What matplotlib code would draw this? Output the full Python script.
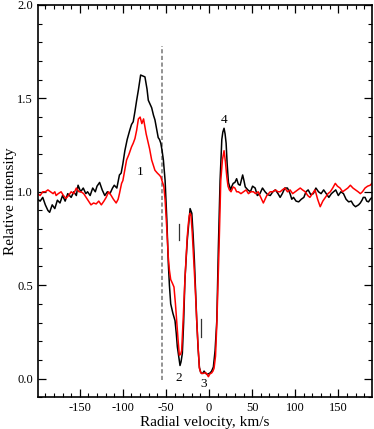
import numpy as np
import matplotlib
matplotlib.use("Agg")
import matplotlib.pyplot as plt
from matplotlib.ticker import MultipleLocator

# ---- data ----
vel_black = [-199, -196, -193, -190, -187, -185, -182, -179, -176, -173, -170, -167, -164, -160,
             -157, -154, -152, -149, -146, -143, -141, -138, -135, -132, -130, -127, -124, -121,
             -118, -115, -112, -110, -107, -104, -102, -100, -97.7, -95, -92, -90, -88, -86, -84,
             -82, -80.5, -79.4, -77, -74.4, -72, -70.5, -68.5, -66.6, -64.5, -62.8, -61, -59,
             -57.5, -56, -54.5, -53, -51, -49, -47.3, -46, -44.5, -42, -39.5, -38, -36.8, -35,
             -33.7, -32.5, -31, -29.5, -28, -26.5, -25.3, -23.5, -22, -20, -18.5, -17, -15.5,
             -14.3, -12.7, -11.2, -9.8, -8.5, -7, -5.8, -4.2, -2.7, -1, 1.2, 3, 5, 7, 9, 10.8,
             12.8, 14.8, 16, 17.4, 18.6, 19.8, 21, 22.5, 25, 26.5, 28, 30, 32, 34, 36, 39, 40.5,
             42, 45, 48, 50.5, 53.5, 56, 59, 62, 65, 68, 71, 74, 77, 80, 82.5, 85, 88, 91, 94,
             96, 98, 101, 104, 107, 110, 112.5, 115, 118, 121, 124, 127, 130, 133, 136, 139, 142,
             144.5, 147, 150, 153, 156, 159, 162, 165, 167.5, 170, 173.5, 175.5, 177.5, 179, 181,
             183, 185, 187, 189, 190]
int_black = [0.96, 0.95, 0.97, 0.93, 0.90, 0.89, 0.93, 0.91, 0.955, 0.94, 0.98, 0.95, 0.99, 0.97,
             1.00, 0.98, 1.035, 1.00, 1.02, 0.99, 1.00, 0.98, 1.02, 1.00, 1.03, 1.05, 1.01, 0.98,
             1.00, 0.99, 1.02, 1.035, 1.02, 1.09, 1.10, 1.15, 1.22, 1.28, 1.33, 1.36, 1.375, 1.43,
             1.49, 1.545, 1.59, 1.625, 1.62, 1.615, 1.55, 1.49, 1.47, 1.45, 1.41, 1.385, 1.34,
             1.29, 1.28, 1.26, 1.22, 1.17, 1.06, 0.85, 0.62, 0.50, 0.40, 0.35, 0.31, 0.24, 0.17,
             0.11, 0.07, 0.09, 0.135, 0.30, 0.53, 0.65, 0.74, 0.83, 0.91, 0.885, 0.77, 0.63, 0.46,
             0.31, 0.16, 0.06, 0.035, 0.027, 0.03, 0.04, 0.03, 0.023, 0.025, 0.03, 0.04, 0.062,
             0.15, 0.31, 0.70, 1.06, 1.28, 1.32, 1.34, 1.31, 1.26, 1.15, 1.05, 1.01, 1.03, 1.045,
             1.05, 1.07, 1.04, 1.035, 1.09, 1.06, 1.026, 1.01, 1.00, 1.03, 1.02, 0.98, 0.99, 1.02,
             1.00, 0.985, 0.98, 1.00, 1.01, 0.99, 0.97, 0.99, 1.02, 1.02, 0.99, 0.96, 0.97, 0.95,
             0.946, 0.96, 0.97, 1.00, 1.01, 0.985, 0.99, 1.02, 1.00, 0.99, 1.01, 0.99, 0.97, 0.99,
             1.00, 1.01, 0.98, 1.00, 0.99, 0.96, 0.946, 0.95, 0.93, 0.92, 0.93, 0.94, 0.955, 0.97,
             0.97, 0.95, 0.946, 0.96, 0.97, 0.96]

vel_red = [-199, -196, -193, -190, -187, -184, -181, -179, -177.5, -175, -171.7, -169, -166, -163,
           -160, -157, -154, -151, -148.5, -145.5, -142.7, -140, -137, -134, -131, -128, -125,
           -122, -119.4, -116.5, -113.6, -111, -107.8, -105.5, -104, -101.5, -100, -98, -95.7,
           -93, -90, -88, -86, -84, -82, -80, -78, -76, -74.5, -73, -71, -69, -66.6, -64.5,
           -62.8, -60, -57.8, -56, -54, -52.5, -51, -49, -47.3, -46, -44.5, -42.5, -40.7, -39,
           -37.6, -36, -34.5, -33, -31.8, -30, -28, -26.5, -25.3, -24, -23, -22, -21, -19.5,
           -18.2, -16, -14.3, -12.7, -11.2, -9.5, -7.3, -5.5, -3.5, -2, -0.8, 1, 3, 4.5, 5.8,
           7.5, 9, 11.6, 13.6, 15.5, 17.4, 19, 20.6, 22, 23.6, 25.5, 28, 30, 32, 34, 37, 40, 43,
           45.7, 48.5, 51.5, 54, 57, 60, 63, 65, 67, 69, 71, 74, 77, 80, 82.5, 85, 88, 91, 94,
           97, 100, 103, 105.8, 108.5, 111.6, 114.5, 117, 120, 123, 126, 129, 132, 135, 138,
           140.7, 143.5, 146.5, 149, 152, 155, 158, 161, 164, 167, 170, 173, 175.6, 178, 181,
           184, 187, 190]
int_red = [0.99, 0.98, 1.00, 1.00, 1.01, 1.00, 0.99, 1.00, 0.98, 0.99, 1.00, 0.98, 0.965, 0.98,
           1.00, 0.99, 1.02, 1.00, 1.00, 0.99, 0.97, 0.95, 0.93, 0.94, 0.935, 0.95, 0.93, 0.95,
           0.97, 1.00, 0.98, 0.96, 0.94, 0.96, 0.99, 1.045, 1.06, 1.11, 1.17, 1.20, 1.24, 1.26,
           1.285, 1.33, 1.39, 1.40, 1.365, 1.39, 1.35, 1.31, 1.27, 1.23, 1.17, 1.14, 1.115, 1.10,
           1.09, 1.08, 1.05, 1.03, 0.955, 0.80, 0.65, 0.58, 0.53, 0.51, 0.49, 0.40, 0.31, 0.21,
           0.125, 0.13, 0.15, 0.32, 0.53, 0.66, 0.76, 0.83, 0.87, 0.885, 0.875, 0.78, 0.67, 0.48,
           0.31, 0.17, 0.055, 0.03, 0.027, 0.03, 0.03, 0.02, 0.01, 0.025, 0.03, 0.04, 0.055,
           0.12, 0.29, 0.70, 1.06, 1.17, 1.22, 1.16, 1.08, 1.03, 1.01, 1.00, 1.026, 1.02, 1.00,
           1.00, 0.99, 1.00, 1.01, 0.99, 1.00, 1.00, 0.99, 1.00, 0.97, 0.94, 0.96, 0.98, 0.99,
           1.00, 1.00, 1.01, 1.00, 1.00, 1.01, 1.02, 1.00, 1.01, 0.99, 1.00, 1.01, 1.02, 1.01,
           1.00, 0.98, 0.97, 0.99, 1.01, 0.96, 0.92, 0.95, 0.97, 0.99, 1.00, 1.02, 1.045, 1.03,
           1.02, 1.00, 1.01, 1.02, 1.035, 1.02, 1.01, 1.00, 0.99, 1.00, 1.02, 1.03, 1.035, 1.05]

dash_v = -55
dash_range = (-0.01, 1.78)
marks_v = [-35, -9]
marks_lo = [0.74, 0.22]
marks_hi = [0.83, 0.32]
label_text = ["1", "2", "3", "4"]
label_v = [-80.5, -35, -6, 17.5]
label_y = [1.105, 0.005, -0.03, 1.385]

plt.rcParams['font.family'] = ['Liberation Serif', 'DejaVu Serif']

fig = plt.figure(figsize=(3.74, 4.29), dpi=100)
ax = fig.add_axes([0.1016, 0.074, 0.894, 0.9144])

ax.plot([dash_v, dash_v], dash_range, ls=(0, (2.5, 1.5)), color="#808080", lw=1.2)
ax.plot(vel_black, int_black, color="black", lw=1.1)
ax.plot(vel_red, int_red, color="red", lw=1.1)
for v, lo, hi in zip(marks_v, marks_lo, marks_hi):
    ax.plot([v, v], [lo, hi], color="#333333", lw=0.9)
for t, v, y in zip(label_text, label_v, label_y):
    ax.text(v, y, t, ha="center", va="center", fontsize=9.5)

ax.set_xlim(-198.5, 189.5)
ax.set_ylim(-0.1, 2.0)
ax.xaxis.set_major_locator(MultipleLocator(50))
ax.xaxis.set_minor_locator(MultipleLocator(10))
ax.yaxis.set_major_locator(MultipleLocator(0.5))
ax.yaxis.set_minor_locator(MultipleLocator(0.1))
ax.yaxis.set_major_formatter(matplotlib.ticker.FormatStrFormatter("%.1f"))
ax.tick_params(which="both", direction="in", top=True, right=True, labelsize=9)
ax.tick_params(which="major", length=6, width=0.9)
ax.tick_params(which="minor", length=3, width=0.8)
ax.set_xticks([-150, -100, -50, 0, 50, 100, 150])
ax.set_xticklabels(["-150", "-100", "-50", "0", "50", "100", "150"])
for s in ax.spines.values():
    s.set_linewidth(1.2)
ax.set_xlabel("Radial velocity, km/s", fontsize=11, labelpad=1)
ax.set_ylabel("Relative intensity", fontsize=11)
ax.yaxis.set_label_coords(-0.062, 0.5)

fig.savefig("out.png", dpi=100)
